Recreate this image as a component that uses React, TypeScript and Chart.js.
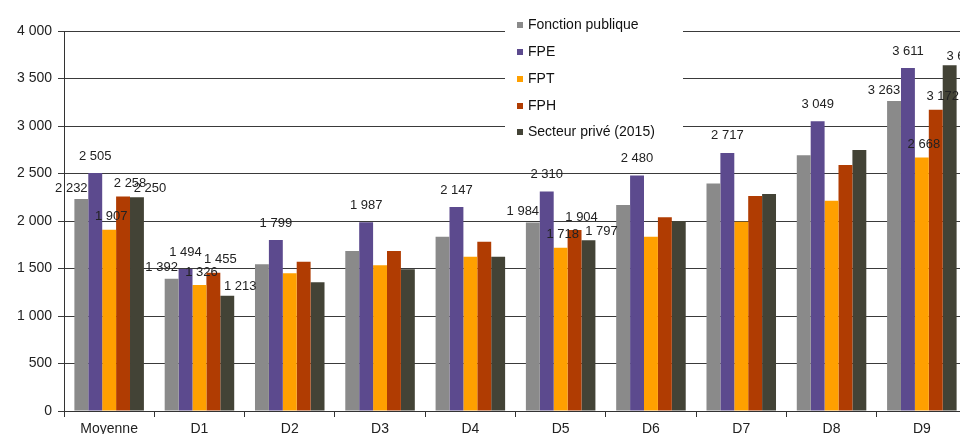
import React, { useEffect, useRef } from "react";
import { Chart, registerables } from "chart.js";

Chart.register(...registerables);

const categories = ["Moyenne", "D1", "D2", "D3", "D4", "D5", "D6", "D7", "D8", "D9"];
const seriesNames = ["Fonction publique", "FPE", "FPT", "FPH", "Secteur privé (2015)"];
const fonctionPublique = [2232, 1392, 1544, 1684, 1835, 1984, 2168, 2396, 2691, 3263];
const fpe = [2505, 1494, 1799, 1987, 2147, 2310, 2480, 2717, 3049, 3611];
const fpt = [1907, 1326, 1449, 1533, 1624, 1718, 1835, 1993, 2214, 2668];
const fph = [2258, 1455, 1572, 1684, 1782, 1904, 2039, 2263, 2589, 3172];
const secteurPrive = [2250, 1213, 1355, 1491, 1624, 1797, 2000, 2284, 2747, 3640];
const yTicks = [0, 500, 1000, 1500, 2000, 2500, 3000, 3500, 4000];
// categories whose value labels are shown for every series except FPE (FPE labelled everywhere)
const labelledCategories = ["Moyenne", "D1", "D5", "D9"];

const colors = ["#8a8a8a", "#5c4a8e", "#ffa000", "#b03c02", "#434336"];
const labelOffsets = [
  { dx: -10, dy: -11 },
  { dx: 0, dy: -17 },
  { dx: 2, dy: -13 },
  { dx: 7, dy: -13 },
  { dx: 13, dy: -9 },
];

const fmt = (n: number) => String(n).replace(/\B(?=(\d{3})+(?!\d))/g, " ");
const FONT = "'Liberation Sans', Arial, sans-serif";

const legendPlugin = {
  id: "insideLegend",
  beforeDatasetsDraw(chart: any) {
    const ctx = chart.ctx;
    ctx.save();
    ctx.fillStyle = "#ffffff";
    ctx.fillRect(505, 4, 178, 142);
    const ys = [25, 52, 79, 106, 132];
    ctx.font = `14px ${FONT}`;
    ctx.textBaseline = "middle";
    ctx.textAlign = "left";
    seriesNames.forEach((name, i) => {
      ctx.fillStyle = colors[i];
      ctx.fillRect(517, ys[i] - 3, 6, 6);
      ctx.fillStyle = "#111111";
      ctx.fillText(name, 528, ys[i]);
    });
    ctx.restore();
  },
};

const valueLabelPlugin = {
  id: "valueLabels",
  afterDatasetsDraw(chart: any) {
    const ctx = chart.ctx;
    ctx.save();
    ctx.font = `13px ${FONT}`;
    ctx.fillStyle = "#222222";
    ctx.textAlign = "center";
    ctx.textBaseline = "middle";
    chart.data.datasets.forEach((ds: any, i: number) => {
      const meta = chart.getDatasetMeta(i);
      meta.data.forEach((el: any, j: number) => {
        const show = i === 1 || labelledCategories.includes(categories[j]);
        if (!show) return;
        const o = labelOffsets[i];
        ctx.fillText(fmt(ds.data[j]), el.x + o.dx, el.y + o.dy);
      });
    });
    ctx.restore();
  },
};

export default function App() {
  const ref = useRef<HTMLCanvasElement | null>(null);
  useEffect(() => {
    if (!ref.current) return;
    const all = [fonctionPublique, fpe, fpt, fph, secteurPrive];
    const chart = new Chart(ref.current, {
      type: "bar",
      data: {
        labels: categories,
        datasets: all.map((d, i) => ({
          label: seriesNames[i],
          data: d,
          backgroundColor: colors[i],
          borderWidth: 0,
          categoryPercentage: 0.77,
          barPercentage: 1.0,
        })),
      },
      options: {
        responsive: false,
        animation: false,
        layout: { padding: { top: 31, right: 9, left: 0, bottom: 0 } },
        plugins: {
          legend: { display: false },
          tooltip: { enabled: false },
        },
        scales: {
          x: {
            afterFit: (s: any) => {
              s.height = 23;
            },
            grid: {
              drawOnChartArea: false,
              drawTicks: true,
              tickLength: 6,
              color: "#333333",
              offset: true,
            },
            border: { display: true, color: "#333333" },
            ticks: {
              color: "#222222",
              font: { family: FONT, size: 14 },
              padding: 4,
              maxRotation: 0,
            },
          },
          y: {
            min: 0,
            max: 4000,
            afterFit: (s: any) => {
              s.width = 64;
            },
            afterBuildTicks: (s: any) => {
              s.ticks = yTicks.map((v) => ({ value: v }));
            },
            grid: { color: "#3a3a3a", lineWidth: 1, tickLength: 6 },
            border: { display: true, color: "#333333" },
            ticks: {
              color: "#222222",
              font: { family: FONT, size: 14 },
              padding: 6,
              callback: (v: any) => fmt(Number(v)),
            },
          },
        },
      },
      plugins: [legendPlugin, valueLabelPlugin],
    });
    return () => chart.destroy();
  }, []);

  return (
    <div
      style={{
        position: "fixed",
        left: 0,
        top: 0,
        width: 960,
        height: 434,
        overflow: "hidden",
        background: "#ffffff",
      }}
    >
      <canvas ref={ref} width={976} height={434} style={{ display: "block" }} />
    </div>
  );
}
